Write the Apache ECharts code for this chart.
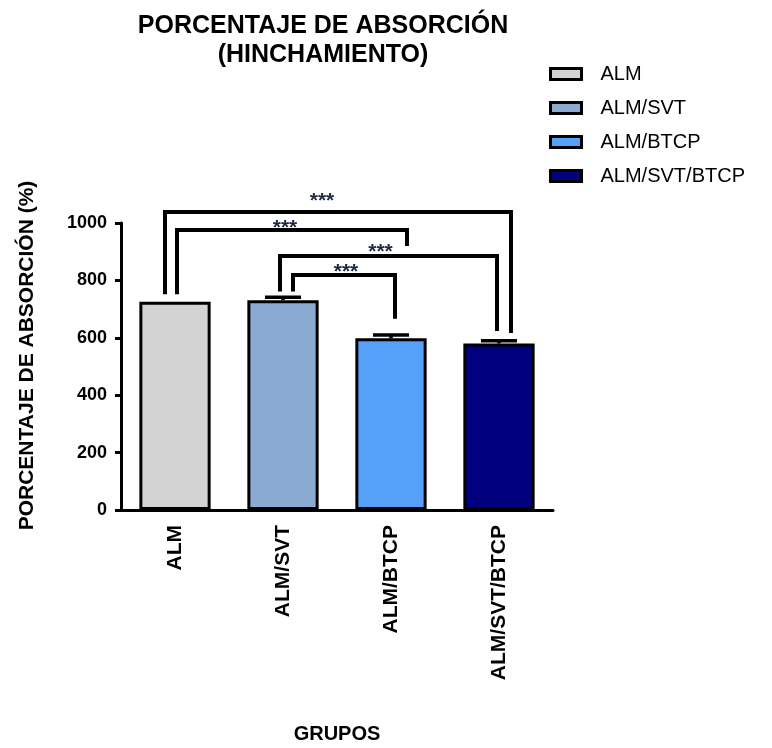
<!DOCTYPE html>
<html>
<head>
<meta charset="utf-8">
<script src="https://cdn.jsdelivr.net/npm/echarts@6/dist/echarts.min.js"></script>
<style>html,body{margin:0;padding:0;background:#fff}#c{width:772px;height:748px}</style>
</head>
<body>
<div id="c"></div>
<script>
// ---- data ----
const categories = ['ALM', 'ALM/SVT', 'ALM/BTCP', 'ALM/SVT/BTCP'];
const means = [726, 731, 598, 580];
const errors = [0, 10, 12, 10];
const yTicks = [0, 200, 400, 600, 800, 1000];
// significance brackets: category pair, bracket top value, left leg end value, right leg end value
const comparisonFrom = [0, 0, 1, 1];
const comparisonTo = [3, 2, 3, 2];
const bracketTop = [1038, 976, 885, 819];
const bracketLeftEnd = [752, 752, 761, 761];
const bracketRightEnd = [617, 920, 624, 666];
const significance = ['***', '***', '***', '***'];

// ---- styles ----
const colors = ['#d3d3d3', '#8aaad2', '#55a1f9', '#01017f'];
const legOffsets = [[-10, 12], [2, 16], [-3, -2], [10, 4]];
const starOffsets = [-16, -7, -8, 2];
const starDrop = [-3, 6, 4, 5];
const FONT = 'Liberation Sans';

const chart = echarts.init(document.getElementById('c'));

const barSeries = categories.map((name, k) => ({
  name: name,
  type: 'bar',
  barWidth: '66%',
  barGap: '-100%',
  data: categories.map((c, i) => (i === k ? means[i] : '-')),
  itemStyle: { color: colors[k], borderColor: '#000', borderWidth: 3 },
  z: 2
}));

const errorSeries = {
  type: 'custom',
  name: 'err',
  data: means.map((m, i) => [i, m, errors[i]]),
  encode: { x: 0, y: 1 },
  z: 5,
  renderItem: function (params, api) {
    const i = api.value(0), m = api.value(1), e = api.value(2);
    if (!e) return null;
    const base = api.coord([i, m]);
    const top = api.coord([i, m + e]);
    const half = 18;
    const st = { stroke: '#000', lineWidth: 3.5 };
    return {
      type: 'group',
      children: [
        { type: 'line', shape: { x1: base[0], y1: base[1], x2: top[0], y2: top[1] }, style: st },
        { type: 'line', shape: { x1: top[0] - half, y1: top[1], x2: top[0] + half, y2: top[1] }, style: st }
      ]
    };
  }
};

const bracketSeries = {
  type: 'custom',
  name: 'sig',
  clip: false,
  data: comparisonFrom.map((f, k) => [f, comparisonTo[k], bracketTop[k], bracketLeftEnd[k], bracketRightEnd[k], k]),
  encode: { x: 0, y: 2 },
  z: 6,
  renderItem: function (params, api) {
    const f = api.value(0), t = api.value(1), top = api.value(2), le = api.value(3), re = api.value(4), k = api.value(5);
    const pTopL = api.coord([f, top]);
    const pTopR = api.coord([t, top]);
    const pL = api.coord([f, le]);
    const pR = api.coord([t, re]);
    const xl = pTopL[0] + legOffsets[k][0];
    const xr = pTopR[0] + legOffsets[k][1];
    const y = pTopL[1];
    return {
      type: 'group',
      children: [
        { type: 'polyline', shape: { points: [[xl, pL[1]], [xl, y], [xr, y], [xr, pR[1]]] },
          style: { stroke: '#000', lineWidth: 4, fill: null, lineJoin: 'miter' } },
        { type: 'text', x: (xl + xr) / 2 + starOffsets[k], y: y + 3 + starDrop[k],
          style: { text: significance[k], fill: '#1e2a44', font: 'bold 21px "' + FONT + '"', align: 'center', verticalAlign: 'bottom' } }
      ]
    };
  }
};

chart.setOption({
  animation: false,
  backgroundColor: '#fff',
  textStyle: { fontFamily: FONT },
  title: {
    text: 'PORCENTAJE DE ABSORCIÓN\n(HINCHAMIENTO)',
    left: 318, top: 7, textAlign: 'center',
    textStyle: { fontFamily: FONT, fontWeight: 'bold', fontSize: 25, lineHeight: 29, color: '#000' }
  },
  legend: {
    data: categories,
    orient: 'vertical',
    left: 549, top: 64,
    padding: 0,
    itemGap: 14,
    itemWidth: 31, itemHeight: 11,
    icon: 'rect',
    itemStyle: { borderColor: '#000', borderWidth: 3 },
    textStyle: { fontFamily: FONT, fontSize: 20, lineHeight: 19, color: '#000', padding: [0, 0, 0, 14] }
  },
  grid: { left: 121, right: 219, top: 223, bottom: 238, containLabel: false },
  xAxis: {
    type: 'category',
    data: categories,
    name: 'GRUPOS',
    nameLocation: 'middle',
    nameGap: 214,
    nameTextStyle: { fontFamily: FONT, fontWeight: 'bold', fontSize: 20, color: '#000' },
    axisLine: { lineStyle: { color: '#000', width: 3 } },
    axisTick: { alignWithLabel: true, length: 6, lineStyle: { color: '#000', width: 3 } },
    axisLabel: { rotate: 90, margin: 15, fontFamily: FONT, fontWeight: 'bold', fontSize: 21, color: '#000' }
  },
  yAxis: {
    type: 'value',
    min: yTicks[0], max: yTicks[yTicks.length - 1], interval: yTicks[1] - yTicks[0],
    name: 'PORCENTAJE DE ABSORCIÓN (%)',
    nameLocation: 'middle',
    nameGap: 83,
    nameTextStyle: { fontFamily: FONT, fontWeight: 'bold', fontSize: 21, color: '#000', padding: [0, 0, 0, 22] },
    axisLine: { show: true, lineStyle: { color: '#000', width: 3 } },
    axisTick: { show: true, length: 6, lineStyle: { color: '#000', width: 3 } },
    splitLine: { show: false },
    axisLabel: { margin: 14, fontFamily: FONT, fontWeight: 'bold', fontSize: 18, color: '#000',
      formatter: function (v) { return String(v); } }
  },
  series: barSeries.concat([errorSeries, bracketSeries])
});
</script>
</body>
</html>
